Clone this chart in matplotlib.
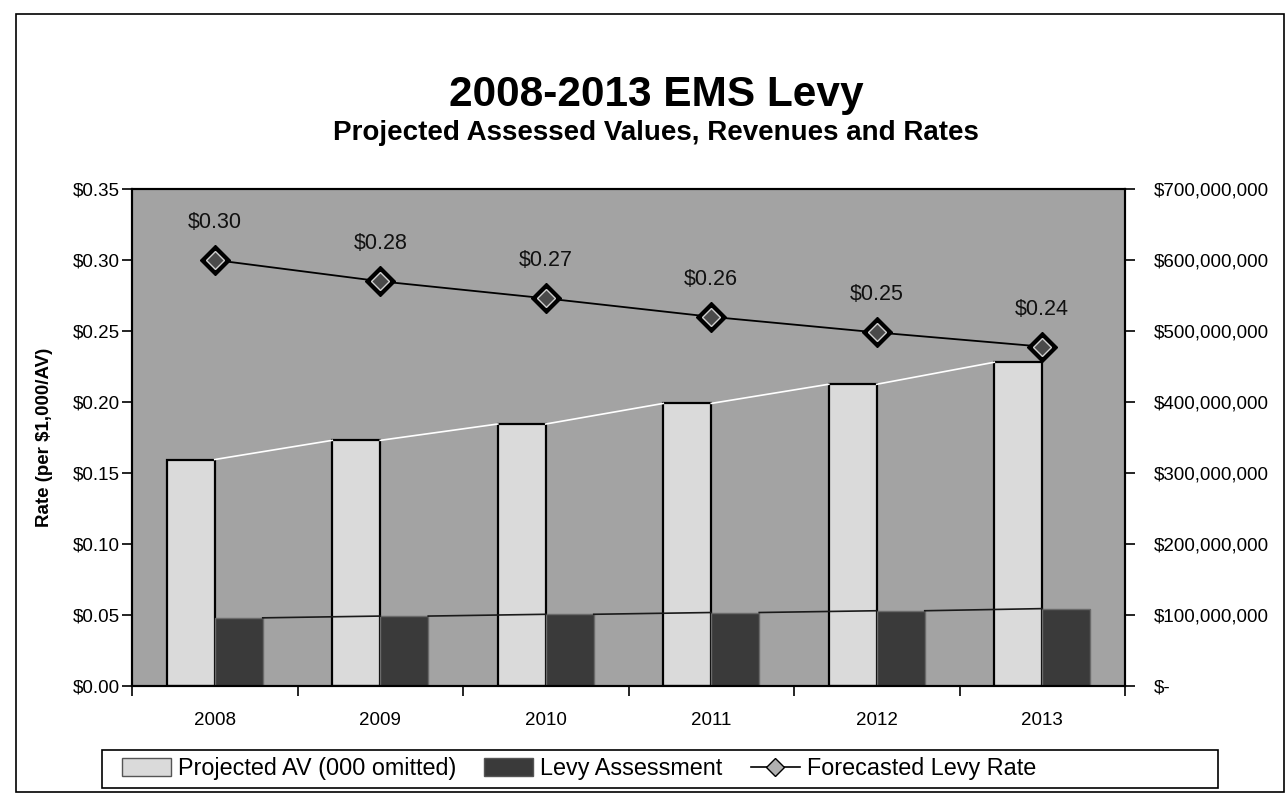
import matplotlib
matplotlib.use("Agg")
import matplotlib.pyplot as plt
from matplotlib.lines import Line2D
from matplotlib.patches import Patch, Rectangle
from matplotlib.ticker import FuncFormatter, FixedLocator
import numpy as np

plt.rcParams["font.family"] = ["Liberation Sans", "DejaVu Sans"]

# data
years = ["2008", "2009", "2010", "2011", "2012", "2013"]
projected_av = [319e6, 346e6, 369e6, 398e6, 425e6, 456e6]   # right axis, $
levy_assessment = [96e6, 98.5e6, 101e6, 103.5e6, 106e6, 109e6]  # right axis, $
levy_rate = [0.300, 0.285, 0.273, 0.260, 0.249, 0.239]      # left axis, per $1,000 AV
rate_ticks = [0.00, 0.05, 0.10, 0.15, 0.20, 0.25, 0.30, 0.35]
dollar_ticks = [0, 100e6, 200e6, 300e6, 400e6, 500e6, 600e6, 700e6]

W, H = 1288, 798
fig = plt.figure(figsize=(W / 100, H / 100), dpi=100)
fig.patch.set_facecolor("white")

# outer chart frame
fig.add_artist(Rectangle((16 / W, 1 - 792 / H), 1268 / W, 778 / H,
                         transform=fig.transFigure, fill=False,
                         edgecolor="black", linewidth=1.2))

ax = fig.add_axes([132 / W, 1 - 686 / H, 993 / W, 497 / H])
ax2 = ax.twinx()
ax.set_zorder(ax2.get_zorder() + 1)  # line on top of bars
ax.patch.set_visible(False)
ax2.patch.set_visible(True)
ax2.patch.set_facecolor("#a3a3a3")

x = np.arange(len(years))
bw = 0.29
av_x = x - bw / 2
lv_x = x + bw / 2

ax2.bar(av_x, projected_av, width=bw, color="#dadada",
        edgecolor="black", linewidth=1.6, zorder=2)
ax2.bar(lv_x, levy_assessment, width=bw, color="#3a3a3a",
        edgecolor="#6a6a6a", linewidth=1.0, zorder=2)

# Excel-style series lines joining bar tops
for i in range(len(years) - 1):
    ax2.plot([av_x[i] + bw / 2, av_x[i + 1] - bw / 2],
             [projected_av[i], projected_av[i + 1]],
             color="white", linewidth=1.2, zorder=3)
    ax2.plot([lv_x[i] + bw / 2, lv_x[i + 1] - bw / 2],
             [levy_assessment[i], levy_assessment[i + 1]],
             color="#1a1a1a", linewidth=1.2, zorder=3)

ax2.set_ylim(0, 700e6)
ax2.set_yticks(dollar_ticks)
ax2.yaxis.set_major_formatter(
    FuncFormatter(lambda v, p: "$-" if v == 0 else f"${v:,.0f}"))
ax2.tick_params(axis="y", labelsize=13.5, length=7, width=1.2, pad=14)

# rate line
ax.plot(x, levy_rate, color="black", linewidth=1.3, zorder=4)
ax.plot(x, levy_rate, linestyle="none", marker="D", markersize=15,
        markerfacecolor="black", markeredgecolor="black", zorder=5)
ax.plot(x, levy_rate, linestyle="none", marker="D", markersize=9,
        markerfacecolor="#4a4a4a", markeredgecolor="#d0d0d0",
        markeredgewidth=1.0, zorder=6)
for xi, r in zip(x, levy_rate):
    ax.annotate(f"${r:.2f}", (xi, r), xytext=(0, 27), textcoords="offset points",
                ha="center", va="center", fontsize=15.5, color="#111111", zorder=7)

ax.set_xlim(-0.5, len(years) - 0.5)
ax.set_ylim(0, 0.35)
ax.set_yticks(rate_ticks)
ax.yaxis.set_major_formatter(FuncFormatter(lambda v, p: f"${v:.2f}"))
ax.tick_params(axis="y", labelsize=13.5, length=7, width=1.2, pad=2)
ax.set_ylabel("Rate (per $1,000/AV)", fontsize=13.5, fontweight="bold", labelpad=14)

ax.set_xticks(x)
ax.set_xticklabels(years)
ax.tick_params(axis="x", which="major", length=0, labelsize=13.5, pad=19)
ax.xaxis.set_minor_locator(FixedLocator(np.arange(-0.5, len(years), 1.0)))
ax.tick_params(axis="x", which="minor", length=7, width=1.2)

for a in (ax, ax2):
    for s in a.spines.values():
        s.set_linewidth(1.5)
        s.set_color("black")

# titles
fig.text(656 / W, 1 - 95 / H, "2008-2013 EMS Levy", ha="center", va="center",
         fontsize=30.5, fontweight="bold")
fig.text(656 / W, 1 - 133 / H, "Projected Assessed Values, Revenues and Rates",
         ha="center", va="center", fontsize=20, fontweight="bold")

# legend in its own box
fig.add_artist(Rectangle((102 / W, 1 - 788 / H), 1116 / W, 38 / H,
                         transform=fig.transFigure, fill=False,
                         edgecolor="black", linewidth=1.2))
handles = [
    Patch(facecolor="#dadada", edgecolor="#555555", linewidth=1.0),
    Patch(facecolor="#3a3a3a", edgecolor="#555555", linewidth=1.0),
    Line2D([0], [0], color="black", linewidth=1.2, marker="D", markersize=9,
           markerfacecolor="#b0b0b0", markeredgecolor="black"),
]
labels = ["Projected AV (000 omitted)", "Levy Assessment", "Forecasted Levy Rate"]
fig.legend(handles, labels, loc="center left",
           bbox_to_anchor=(122 / W, 1 - 769 / H), ncol=3, frameon=False,
           fontsize=16.8, handlelength=2.1, handleheight=0.8,
           handletextpad=0.3, columnspacing=1.2, borderpad=0, borderaxespad=0)

fig.savefig("out.png", dpi=100, facecolor="white")
